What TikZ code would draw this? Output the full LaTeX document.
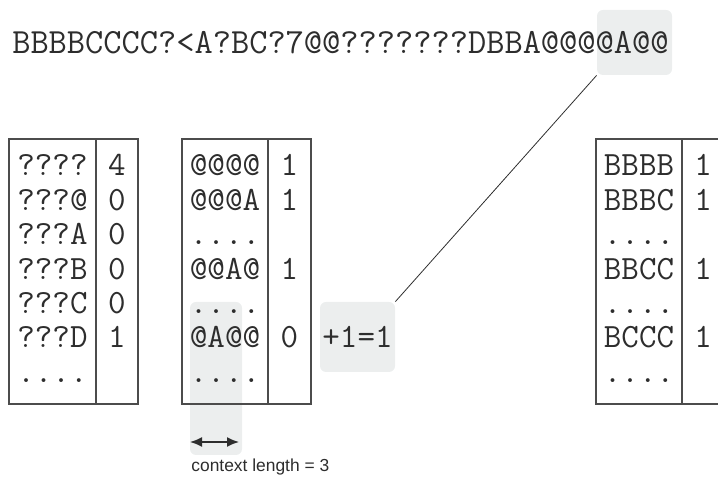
\documentclass[tikz,border=0pt]{standalone}
\usepackage{fontspec}
\newfontfamily\capfont{Liberation Sans}
\usetikzlibrary{arrows.meta}

\definecolor{hlgray}{RGB}{236,238,238}
\definecolor{ink}{RGB}{45,45,45}
\newcommand{\skiprow}{....}

\tikzset{
  seq/.style={font=\ttfamily\fontsize{17}{20}\selectfont, text=ink, inner sep=0pt, anchor=base},
  hlbox/.style={fill=hlgray, rounded corners=3pt, inner sep=0pt},
  tab/.style={draw=ink!85, line width=0.6pt},
}

\begin{document}
\begin{tikzpicture}[x=0.5pt, y=-0.5pt]
\useasboundingbox (0,0) rectangle (718,480);
\clip (0,0) rectangle (718,480);

% highlighted window in the sequence
\node[hlbox, minimum width=37.5pt, minimum height=32.5pt] (hl) at (634.5,42.5) {};
\node[seq, anchor=base east, font=\ttfamily\fontsize{17.7}{20}\selectfont] (seqline) at (669,54) {BBBBCCCC?<A?BC?7@@???????DBBA@@@@A@@};

% context column shading
\fill[hlgray, rounded corners=3pt] (190,302) rectangle (242,455);

% tables
\draw[tab] (9,139) rectangle (138,404);
\draw[tab] (96,139) -- (96,404);
\draw[tab] (182,139) rectangle (311,404);
\draw[tab] (268,139) -- (268,404);
\draw[tab] (596,139) rectangle (725,404);
\draw[tab] (682,139) -- (682,404);

% left table
\foreach \i/\k/\n in {1/????/4, 2/???@/0, 3/???A/0, 4/???B/0, 5/???C/0, 6/???D/1, 7/\skiprow/}
  \node[seq] (lk\i) at (52.5,{176+(\i-1)*34.4}) {\k} node[seq] (lc\i) at (117,{176+(\i-1)*34.4}) {\n};

% middle table
\foreach \i/\k/\n in {1/@@@@/1, 2/@@@A/1, 3/\skiprow/, 4/@@A@/1, 5/\skiprow/, 6/@A@@/0, 7/\skiprow/}
  \node[seq] (mk\i) at (225,{176+(\i-1)*34.4}) {\k} node[seq] (mc\i) at (289.5,{176+(\i-1)*34.4}) {\n};

% right table
\foreach \i/\k/\n in {1/BBBB/1, 2/BBBC/1, 3/\skiprow/, 4/BBCC/1, 5/\skiprow/, 6/BCCC/1, 7/\skiprow/}
  \node[seq] (rk\i) at (639,{176+(\i-1)*34.4}) {\k} node[seq] (rc\i) at (703,{176+(\i-1)*34.4}) {\n};

% count update
\node[hlbox, minimum width=37.5pt, minimum height=35pt, font=\ttfamily\fontsize{17}{20}\selectfont, text=ink] (plus) at (357.5,337) {+1=1};
\draw[ink, line width=0.4pt] (hl.south west) -- (plus.north east);

% context length
\coordinate (ctxa) at (190,442);
\coordinate (ctxb) at (239,442);
\draw[ink, line width=0.8pt, {Latex[length=6pt,width=5pt]}-{Latex[length=6pt,width=5pt]}] (ctxa) -- (ctxb);
\node[font=\capfont\fontsize{8.7}{11}\selectfont, text=ink, inner sep=0pt, anchor=west] (ctxlabel) at (191,467) {context length = 3};
\end{tikzpicture}
\end{document}
